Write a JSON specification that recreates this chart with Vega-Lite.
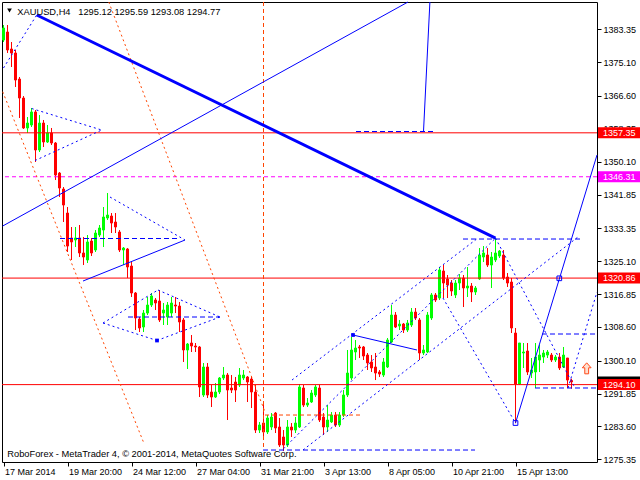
{
 "$schema": "https://vega.github.io/schema/vega-lite/v6.json",
 "width": 595,
 "height": 460,
 "autosize": {"type": "none"},
 "padding": {"left": 2, "top": 2, "right": 43, "bottom": 18},
 "background": "#FFFFFF",
 "config": {"view": {"stroke": "#000000", "strokeWidth": 1}, "font": "Liberation Sans",
  "axis": {"labelOverlap": false, "labelFlush": false, "labelBound": false, "grid": false, "domain": false, "labelFont": "Liberation Sans", "labelFontSize": 9, "labelColor": "#000000", "tickColor": "#000000", "tickSize": 4},
  "scale": {"continuousPadding": 0}},
 "datasets": {
  "candles": [
   {"i":0,"o":1380.66,"h":1384.43,"l":1380.16,"c":1383.68},
   {"i":1,"o":1382.67,"h":1384.43,"l":1377.40,"c":1378.15},
   {"i":2,"o":1378.40,"h":1380.16,"l":1373.88,"c":1377.40},
   {"i":3,"o":1377.40,"h":1378.15,"l":1368.86,"c":1370.61},
   {"i":4,"o":1370.86,"h":1371.37,"l":1361.07,"c":1366.09},
   {"i":5,"o":1366.09,"h":1366.59,"l":1358.31,"c":1358.56},
   {"i":6,"o":1358.56,"h":1361.32,"l":1357.30,"c":1359.81},
   {"i":7,"o":1359.31,"h":1363.58,"l":1358.81,"c":1362.58},
   {"i":8,"o":1362.58,"h":1363.08,"l":1350.02,"c":1353.03},
   {"i":9,"o":1353.03,"h":1361.82,"l":1352.53,"c":1359.81},
   {"i":10,"o":1359.81,"h":1360.57,"l":1353.78,"c":1355.04},
   {"i":11,"o":1355.04,"h":1359.31,"l":1354.79,"c":1357.30},
   {"i":12,"o":1357.30,"h":1358.56,"l":1354.29,"c":1354.79},
   {"i":13,"o":1354.79,"h":1355.04,"l":1345.49,"c":1346.75},
   {"i":14,"o":1347.25,"h":1347.50,"l":1341.22,"c":1343.48},
   {"i":15,"o":1343.23,"h":1343.73,"l":1334.94,"c":1339.21},
   {"i":16,"o":1337.20,"h":1338.71,"l":1327.41,"c":1328.91},
   {"i":17,"o":1330.93,"h":1333.69,"l":1325.40,"c":1329.93},
   {"i":18,"o":1330.43,"h":1333.69,"l":1328.66,"c":1330.93},
   {"i":19,"o":1330.93,"h":1334.19,"l":1326.15,"c":1327.16},
   {"i":20,"o":1327.16,"h":1331.18,"l":1324.14,"c":1326.15},
   {"i":21,"o":1325.40,"h":1331.68,"l":1324.64,"c":1329.93},
   {"i":22,"o":1330.17,"h":1330.93,"l":1326.40,"c":1327.16},
   {"i":23,"o":1327.91,"h":1332.93,"l":1327.41,"c":1332.18},
   {"i":24,"o":1331.68,"h":1334.19,"l":1331.18,"c":1333.44},
   {"i":25,"o":1332.93,"h":1338.71,"l":1328.66,"c":1336.20},
   {"i":26,"o":1335.95,"h":1342.23,"l":1335.45,"c":1336.70},
   {"i":27,"o":1336.45,"h":1337.20,"l":1332.18,"c":1334.69},
   {"i":28,"o":1334.94,"h":1337.20,"l":1332.18,"c":1333.69},
   {"i":29,"o":1332.43,"h":1332.93,"l":1327.41,"c":1327.91},
   {"i":30,"o":1327.91,"h":1328.66,"l":1324.14,"c":1328.41},
   {"i":31,"o":1328.16,"h":1328.41,"l":1320.88,"c":1323.64},
   {"i":32,"o":1323.89,"h":1324.89,"l":1316.11,"c":1317.11},
   {"i":33,"o":1317.11,"h":1317.36,"l":1307.81,"c":1310.83},
   {"i":34,"o":1310.58,"h":1311.08,"l":1307.31,"c":1308.32},
   {"i":35,"o":1308.57,"h":1312.84,"l":1307.31,"c":1312.08},
   {"i":36,"o":1312.08,"h":1316.11,"l":1311.58,"c":1314.09},
   {"i":37,"o":1314.09,"h":1317.11,"l":1313.59,"c":1316.36},
   {"i":38,"o":1315.35,"h":1315.85,"l":1312.84,"c":1314.60},
   {"i":39,"o":1315.10,"h":1317.86,"l":1309.83,"c":1310.33},
   {"i":40,"o":1312.08,"h":1314.60,"l":1309.07,"c":1312.84},
   {"i":41,"o":1311.08,"h":1314.85,"l":1309.07,"c":1314.09},
   {"i":42,"o":1312.08,"h":1316.11,"l":1311.08,"c":1314.60},
   {"i":43,"o":1314.09,"h":1316.11,"l":1312.08,"c":1313.84},
   {"i":44,"o":1313.84,"h":1314.85,"l":1307.31,"c":1309.83},
   {"i":45,"o":1310.33,"h":1310.83,"l":1299.78,"c":1302.79},
   {"i":46,"o":1302.79,"h":1304.55,"l":1298.02,"c":1304.30},
   {"i":47,"o":1304.55,"h":1306.56,"l":1302.29,"c":1303.80},
   {"i":48,"o":1303.80,"h":1304.55,"l":1302.29,"c":1303.55},
   {"i":49,"o":1303.55,"h":1303.80,"l":1290.98,"c":1293.50},
   {"i":50,"o":1291.49,"h":1299.53,"l":1290.98,"c":1298.52},
   {"i":51,"o":1298.52,"h":1299.53,"l":1290.73,"c":1291.49},
   {"i":52,"o":1292.24,"h":1294.00,"l":1288.47,"c":1290.98},
   {"i":53,"o":1290.98,"h":1294.50,"l":1290.73,"c":1292.24},
   {"i":54,"o":1292.24,"h":1296.01,"l":1291.74,"c":1295.76},
   {"i":55,"o":1295.76,"h":1298.52,"l":1295.25,"c":1296.51},
   {"i":56,"o":1296.51,"h":1297.01,"l":1285.21,"c":1292.74},
   {"i":57,"o":1293.25,"h":1296.51,"l":1291.99,"c":1292.74},
   {"i":58,"o":1294.75,"h":1296.01,"l":1289.73,"c":1292.74},
   {"i":59,"o":1294.00,"h":1298.27,"l":1293.50,"c":1296.51},
   {"i":60,"o":1295.76,"h":1297.77,"l":1295.25,"c":1296.51},
   {"i":61,"o":1296.01,"h":1296.26,"l":1289.73,"c":1294.75},
   {"i":62,"o":1295.51,"h":1296.01,"l":1288.22,"c":1292.24},
   {"i":63,"o":1292.24,"h":1294.00,"l":1281.94,"c":1282.69},
   {"i":64,"o":1282.69,"h":1284.71,"l":1281.94,"c":1283.95},
   {"i":65,"o":1284.45,"h":1288.97,"l":1280.94,"c":1282.19},
   {"i":66,"o":1282.19,"h":1286.46,"l":1281.69,"c":1285.71},
   {"i":67,"o":1283.45,"h":1286.96,"l":1282.69,"c":1285.96},
   {"i":68,"o":1286.96,"h":1287.21,"l":1281.94,"c":1283.20},
   {"i":69,"o":1283.45,"h":1285.71,"l":1278.43,"c":1278.93},
   {"i":70,"o":1280.94,"h":1282.69,"l":1277.40,"c":1278.93},
   {"i":71,"o":1278.93,"h":1285.21,"l":1278.43,"c":1283.45},
   {"i":72,"o":1283.45,"h":1284.45,"l":1280.94,"c":1282.69},
   {"i":73,"o":1282.69,"h":1285.96,"l":1281.94,"c":1284.45},
   {"i":74,"o":1283.45,"h":1294.25,"l":1283.20,"c":1293.50},
   {"i":75,"o":1293.25,"h":1294.00,"l":1288.47,"c":1288.97},
   {"i":76,"o":1288.97,"h":1290.73,"l":1288.47,"c":1289.48},
   {"i":77,"o":1289.73,"h":1292.74,"l":1289.48,"c":1291.99},
   {"i":78,"o":1291.49,"h":1294.00,"l":1290.98,"c":1293.50},
   {"i":79,"o":1293.25,"h":1294.00,"l":1284.71,"c":1285.21},
   {"i":80,"o":1285.96,"h":1286.96,"l":1281.44,"c":1283.45},
   {"i":81,"o":1283.45,"h":1288.97,"l":1282.19,"c":1285.21},
   {"i":82,"o":1284.71,"h":1287.21,"l":1284.45,"c":1286.46},
   {"i":83,"o":1286.46,"h":1287.21,"l":1283.45,"c":1283.95},
   {"i":84,"o":1283.95,"h":1287.21,"l":1283.45,"c":1286.46},
   {"i":85,"o":1286.46,"h":1292.74,"l":1285.96,"c":1291.49},
   {"i":86,"o":1291.49,"h":1302.79,"l":1290.98,"c":1297.01},
   {"i":87,"o":1295.76,"h":1306.06,"l":1295.25,"c":1302.79},
   {"i":88,"o":1302.29,"h":1305.30,"l":1300.28,"c":1303.29},
   {"i":89,"o":1303.55,"h":1304.05,"l":1300.78,"c":1303.29},
   {"i":90,"o":1303.55,"h":1303.80,"l":1300.28,"c":1301.28},
   {"i":91,"o":1301.53,"h":1302.04,"l":1297.77,"c":1299.53},
   {"i":92,"o":1299.78,"h":1301.53,"l":1297.27,"c":1298.27},
   {"i":93,"o":1298.52,"h":1302.04,"l":1295.25,"c":1297.01},
   {"i":94,"o":1297.27,"h":1297.77,"l":1296.01,"c":1296.76},
   {"i":95,"o":1296.51,"h":1300.78,"l":1296.01,"c":1299.78},
   {"i":96,"o":1298.52,"h":1305.81,"l":1298.27,"c":1305.30},
   {"i":97,"o":1304.80,"h":1314.09,"l":1304.55,"c":1311.58},
   {"i":98,"o":1311.58,"h":1312.33,"l":1308.32,"c":1308.57},
   {"i":99,"o":1308.82,"h":1310.33,"l":1307.81,"c":1309.32},
   {"i":100,"o":1309.32,"h":1309.58,"l":1307.06,"c":1307.81},
   {"i":101,"o":1307.81,"h":1310.33,"l":1307.31,"c":1309.58},
   {"i":102,"o":1309.07,"h":1313.34,"l":1308.57,"c":1312.33},
   {"i":103,"o":1312.33,"h":1313.34,"l":1310.33,"c":1310.83},
   {"i":104,"o":1310.33,"h":1310.83,"l":1300.28,"c":1302.04},
   {"i":105,"o":1302.04,"h":1304.05,"l":1301.53,"c":1302.79},
   {"i":106,"o":1302.29,"h":1312.33,"l":1302.04,"c":1311.58},
   {"i":107,"o":1310.83,"h":1317.11,"l":1310.33,"c":1316.61},
   {"i":108,"o":1316.61,"h":1317.11,"l":1314.85,"c":1315.35},
   {"i":109,"o":1315.85,"h":1323.64,"l":1315.35,"c":1322.89},
   {"i":110,"o":1322.64,"h":1324.14,"l":1315.85,"c":1319.62},
   {"i":111,"o":1320.63,"h":1321.63,"l":1315.85,"c":1319.12},
   {"i":112,"o":1319.62,"h":1320.37,"l":1316.36,"c":1317.61},
   {"i":113,"o":1316.61,"h":1320.37,"l":1315.85,"c":1319.62},
   {"i":114,"o":1319.62,"h":1321.88,"l":1317.86,"c":1320.88},
   {"i":115,"o":1320.88,"h":1321.63,"l":1313.59,"c":1318.37},
   {"i":116,"o":1318.37,"h":1323.64,"l":1316.11,"c":1318.87},
   {"i":117,"o":1318.87,"h":1319.62,"l":1314.85,"c":1317.36},
   {"i":118,"o":1317.36,"h":1318.87,"l":1316.61,"c":1318.37},
   {"i":119,"o":1320.63,"h":1328.41,"l":1320.37,"c":1326.65},
   {"i":120,"o":1326.15,"h":1328.91,"l":1324.89,"c":1327.16},
   {"i":121,"o":1326.65,"h":1328.41,"l":1323.64,"c":1324.14},
   {"i":122,"o":1324.14,"h":1327.41,"l":1318.37,"c":1326.15},
   {"i":123,"o":1325.40,"h":1330.93,"l":1324.89,"c":1327.16},
   {"i":124,"o":1326.40,"h":1327.91,"l":1325.90,"c":1327.66},
   {"i":125,"o":1326.65,"h":1327.91,"l":1320.37,"c":1320.88},
   {"i":126,"o":1321.13,"h":1322.13,"l":1318.62,"c":1319.62},
   {"i":127,"o":1319.87,"h":1320.88,"l":1307.06,"c":1308.32},
   {"i":128,"o":1307.06,"h":1308.32,"l":1284.40,"c":1294.25},
   {"i":129,"o":1294.25,"h":1304.55,"l":1294.00,"c":1304.55},
   {"i":130,"o":1302.04,"h":1304.55,"l":1298.27,"c":1302.29},
   {"i":131,"o":1302.54,"h":1304.55,"l":1296.51,"c":1297.27},
   {"i":132,"o":1297.01,"h":1300.78,"l":1295.76,"c":1297.77},
   {"i":133,"o":1297.27,"h":1304.55,"l":1293.25,"c":1301.03},
   {"i":134,"o":1300.28,"h":1304.05,"l":1297.27,"c":1301.53},
   {"i":135,"o":1301.03,"h":1302.79,"l":1299.53,"c":1302.04},
   {"i":136,"o":1301.53,"h":1302.79,"l":1300.78,"c":1302.29},
   {"i":137,"o":1301.53,"h":1302.04,"l":1299.78,"c":1300.28},
   {"i":138,"o":1300.28,"h":1301.53,"l":1299.78,"c":1301.03},
   {"i":139,"o":1301.03,"h":1302.04,"l":1297.77,"c":1298.27},
   {"i":140,"o":1298.52,"h":1303.55,"l":1298.27,"c":1301.53},
   {"i":141,"o":1300.78,"h":1300.78,"l":1293.25,"c":1295.25},
   {"i":142,"o":1295.12,"h":1295.59,"l":1293.08,"c":1294.77}
  ],
  "redLevels": [{"p":1357.35},{"p":1320.86},{"p":1294.10}],
  "magentaLevel": [{"p":1346.31}],
  "thickLine": [{"x1":8.3,"y1":1386.94,"x2":123,"y2":1330.9}],
  "solidLines": [
   {"x1":-0.2,"y1":1333.94,"x2":101.125,"y2":1390.21},
   {"x1":19.875,"y1":1320.12,"x2":45.375,"y2":1330.42},
   {"x1":106.6,"y1":1390.21,"x2":105.0,"y2":1357.68},
   {"x1":87.375,"y1":1306.56,"x2":103.375,"y2":1302.79},
   {"x1":128,"y1":1284.45,"x2":148.375,"y2":1351.77}
  ],
  "dottedLines": [
   {"x1":0,"y1":1373.63,"x2":8.3,"y2":1386.94},
   {"x1":7.05,"y1":1363.45,"x2":24.55,"y2":1358.05},
   {"x1":7.875,"y1":1350.39,"x2":24.55,"y2":1358.05},
   {"x1":26.625,"y1":1341.22,"x2":45.375,"y2":1330.42},
   {"x1":24.875,"y1":1309.57,"x2":38.625,"y2":1317.86},
   {"x1":38.625,"y1":1317.86,"x2":54.125,"y2":1311.08},
   {"x1":24.875,"y1":1309.57,"x2":38.375,"y2":1305.18},
   {"x1":38.375,"y1":1305.18,"x2":54.125,"y2":1311.08},
   {"x1":70,"y1":1278.0,"x2":123,"y2":1330.9},
   {"x1":72.125,"y1":1295.25,"x2":118.625,"y2":1330.93},
   {"x1":74.875,"y1":1277.67,"x2":143.625,"y2":1331.18},
   {"x1":109.875,"y1":1315.85,"x2":128,"y2":1284.45},
   {"x1":123,"y1":1330.9,"x2":142.875,"y2":1293.25},
   {"x1":141.125,"y1":1293.25,"x2":148.375,"y2":1317.36}
  ],
  "dashedLines": [
   {"x1":14.125,"y1":1330.80,"x2":44.125,"y2":1330.80},
   {"x1":31.125,"y1":1311.08,"x2":54.125,"y2":1311.08},
   {"x1":88.125,"y1":1357.68,"x2":108.125,"y2":1357.68},
   {"x1":64.875,"y1":1277.67,"x2":117.875,"y2":1277.67},
   {"x1":114.875,"y1":1330.67,"x2":144.125,"y2":1330.67},
   {"x1":134.625,"y1":1306.81,"x2":148.375,"y2":1306.81},
   {"x1":132.875,"y1":1293.25,"x2":148.375,"y2":1293.25}
  ],
  "orangeDotted": [
   {"x1":-0.2,"y1":1367.67,"x2":34.95,"y2":1279.76},
   {"x1":26.325,"y1":1390.21,"x2":65.375,"y2":1287.22}
  ],
  "orangeDashed": [
   {"x1":65,"y1":1390.21,"x2":65,"y2":1277.67},
   {"x1":65.375,"y1":1286.46,"x2":89.875,"y2":1286.46}
  ],
  "filledSquares": [{"i":38.375,"p":1305.18},{"i":87.375,"p":1306.56}],
  "hollowSquares": [{"i":128,"p":1284.45},{"i":138.95,"p":1320.80}],
  "redBoxes": [{"p":1357.35},{"p":1320.86}],
  "lastBox": [{"p":1294.77}],
  "bidBox": [{"p":1294.10}],
  "magentaBox": [{"p":1346.31}]
 },
 "layer": [
  {
   "data": {"name": "candles"},
   "mark": {"type": "rule", "strokeWidth": 1},
   "encoding": {
    "x": {"field": "i", "type": "quantitative", "title": null,
     "scale": {"domain": [-0.375, 148.375], "nice": false, "zero": false, "padding": 0},
     "axis": {"values": [0,16,32,48,64,80,96,112,128], "tickCount": 20,
      "labelExpr": "['17 Mar 2014','19 Mar 20:00','24 Mar 12:00','27 Mar 04:00','31 Mar 21:00','3 Apr 13:00','8 Apr 05:00','10 Apr 21:00','15 Apr 13:00'][round(datum.value/16)]",
      "labelAlign": "left", "labelOffset": 1, "labelBaseline": "top", "labelPadding": 1,
      "labelOverlap": false, "title": null}},
    "y": {"field": "l", "type": "quantitative", "title": null,
     "scale": {"domain": [1274.66, 1390.21], "nice": false, "zero": false, "padding": 0},
     "axis": {"orient": "right", "tickCount": 30,
      "values": [1383.35,1375.10,1366.60,1358.35,1350.10,1341.85,1333.35,1325.10,1316.85,1308.60,1300.10,1291.85,1283.60,1275.35],
      "format": ".2f", "labelPadding": 2, "labelOverlap": false, "title": null}},
    "y2": {"field": "h"},
    "color": {"condition": {"test": "datum.c >= datum.o", "value": "#00FF00"}, "value": "#FF0000"}
   }
  },
  {
   "data": {"name": "candles"},
   "mark": {"type": "bar", "size": 2, "strokeWidth": 1},
   "encoding": {
    "x": {"field": "i", "type": "quantitative", "title": null, "axis": {"labelOverlap": false}},
    "y": {"field": "o", "type": "quantitative", "title": null, "axis": {"orient": "right", "labelOverlap": false}},
    "y2": {"field": "c"},
    "fill": {"condition": {"test": "datum.c >= datum.o", "value": "#00FF00"}, "value": "#FF0000"},
    "stroke": {"condition": {"test": "datum.c >= datum.o", "value": "#00FF00"}, "value": "#FF0000"}
   }
  },
  {
   "data": {"name": "redLevels"},
   "mark": {"type": "rule", "color": "#FF0000", "strokeWidth": 1},
   "encoding": {"y": {"field": "p", "type": "quantitative", "title": null, "axis": {"orient": "right", "labelOverlap": false}}}
  },
  {
   "data": {"name": "magentaLevel"},
   "mark": {"type": "rule", "color": "#FF00FF", "strokeWidth": 1, "strokeDash": [4, 3]},
   "encoding": {"y": {"field": "p", "type": "quantitative", "title": null, "axis": {"orient": "right", "labelOverlap": false}}}
  },
  {
   "data": {"name": "orangeDotted"},
   "mark": {"type": "rule", "color": "#FF4500", "strokeWidth": 1, "strokeDash": [2, 3]},
   "encoding": {"x": {"field": "x1", "type": "quantitative", "title": null, "axis": {"labelOverlap": false}}, "y": {"field": "y1", "type": "quantitative", "title": null, "axis": {"orient": "right", "labelOverlap": false}}, "x2": {"field": "x2"}, "y2": {"field": "y2"}}
  },
  {
   "data": {"name": "orangeDashed"},
   "mark": {"type": "rule", "color": "#FF4500", "strokeWidth": 1, "strokeDash": [4, 3]},
   "encoding": {"x": {"field": "x1", "type": "quantitative", "title": null, "axis": {"labelOverlap": false}}, "y": {"field": "y1", "type": "quantitative", "title": null, "axis": {"orient": "right", "labelOverlap": false}}, "x2": {"field": "x2"}, "y2": {"field": "y2"}}
  },
  {
   "data": {"name": "dottedLines"},
   "mark": {"type": "rule", "color": "#0000FF", "strokeWidth": 1, "strokeDash": [2, 3]},
   "encoding": {"x": {"field": "x1", "type": "quantitative", "title": null, "axis": {"labelOverlap": false}}, "y": {"field": "y1", "type": "quantitative", "title": null, "axis": {"orient": "right", "labelOverlap": false}}, "x2": {"field": "x2"}, "y2": {"field": "y2"}}
  },
  {
   "data": {"name": "dashedLines"},
   "mark": {"type": "rule", "color": "#0000FF", "strokeWidth": 1, "strokeDash": [5, 3]},
   "encoding": {"x": {"field": "x1", "type": "quantitative", "title": null, "axis": {"labelOverlap": false}}, "y": {"field": "y1", "type": "quantitative", "title": null, "axis": {"orient": "right", "labelOverlap": false}}, "x2": {"field": "x2"}, "y2": {"field": "y2"}}
  },
  {
   "data": {"name": "solidLines"},
   "mark": {"type": "rule", "color": "#0000FF", "strokeWidth": 1},
   "encoding": {"x": {"field": "x1", "type": "quantitative", "title": null, "axis": {"labelOverlap": false}}, "y": {"field": "y1", "type": "quantitative", "title": null, "axis": {"orient": "right", "labelOverlap": false}}, "x2": {"field": "x2"}, "y2": {"field": "y2"}}
  },
  {
   "data": {"name": "thickLine"},
   "mark": {"type": "rule", "color": "#0000FF", "strokeWidth": 3},
   "encoding": {"x": {"field": "x1", "type": "quantitative", "title": null, "axis": {"labelOverlap": false}}, "y": {"field": "y1", "type": "quantitative", "title": null, "axis": {"orient": "right", "labelOverlap": false}}, "x2": {"field": "x2"}, "y2": {"field": "y2"}}
  },
  {
   "data": {"name": "filledSquares"},
   "mark": {"type": "point", "shape": "square", "size": 14, "filled": true, "color": "#0000FF", "opacity": 1},
   "encoding": {"x": {"field": "i", "type": "quantitative", "title": null, "axis": {"labelOverlap": false}}, "y": {"field": "p", "type": "quantitative", "title": null, "axis": {"orient": "right", "labelOverlap": false}}}
  },
  {
   "data": {"name": "hollowSquares"},
   "mark": {"type": "point", "shape": "square", "size": 22, "filled": false, "color": "#0000FF", "strokeWidth": 1, "opacity": 1},
   "encoding": {"x": {"field": "i", "type": "quantitative", "title": null, "axis": {"labelOverlap": false}}, "y": {"field": "p", "type": "quantitative", "title": null, "axis": {"orient": "right", "labelOverlap": false}}}
  },
  {
   "data": {"values": [{"i": 145.8, "p": 1298.19}]},
   "mark": {"type": "point", "shape": "M0,-1L0.8,-0.1L0.35,-0.1L0.35,1L-0.35,1L-0.35,-0.1L-0.8,-0.1Z", "size": 121, "filled": true, "fill": "#FFE0D0", "stroke": "#FF4A1A", "strokeWidth": 1, "opacity": 1},
   "encoding": {"x": {"field": "i", "type": "quantitative", "title": null, "axis": {"labelOverlap": false}}, "y": {"field": "p", "type": "quantitative", "title": null, "axis": {"orient": "right", "labelOverlap": false}}}
  },
  {
   "data": {"values": [{"i": 1.5, "p": 1388.07}]},
   "mark": {"type": "point", "shape": "triangle-down", "size": 22, "filled": true, "color": "#000000", "opacity": 1},
   "encoding": {"x": {"field": "i", "type": "quantitative", "title": null, "axis": {"labelOverlap": false}}, "y": {"field": "p", "type": "quantitative", "title": null, "axis": {"orient": "right", "labelOverlap": false}}}
  },
  {
   "data": {"values": [{"i": 3.45, "p": 1386.94, "t": "XAUUSD,H4\u00a0\u00a0 1295.12 1295.59 1293.08 1294.77"}]},
   "mark": {"type": "text", "align": "left", "baseline": "alphabetic", "fontSize": 9.3, "font": "Liberation Sans", "color": "#000000"},
   "encoding": {"x": {"field": "i", "type": "quantitative", "title": null, "axis": {"labelOverlap": false}}, "y": {"field": "p", "type": "quantitative", "title": null, "axis": {"orient": "right", "labelOverlap": false}}, "text": {"field": "t"}}
  },
  {
   "data": {"values": [{"i": 0.95, "p": 1275.86, "t": "RoboForex - MetaTrader 4, © 2001-2014, MetaQuotes Software Corp."}]},
   "mark": {"type": "text", "align": "left", "baseline": "alphabetic", "fontSize": 9.3, "font": "Liberation Sans", "color": "#000000"},
   "encoding": {"x": {"field": "i", "type": "quantitative", "title": null, "axis": {"labelOverlap": false}}, "y": {"field": "p", "type": "quantitative", "title": null, "axis": {"orient": "right", "labelOverlap": false}}, "text": {"field": "t"}}
  },
  {
   "data": {"name": "redBoxes"},
   "mark": {"type": "bar", "size": 11, "color": "#FF0000", "clip": false},
   "encoding": {"x": {"datum": 148.625, "type": "quantitative", "title": null, "axis": {"labelOverlap": false}}, "x2": {"datum": 159.125}, "y": {"field": "p", "type": "quantitative", "title": null, "axis": {"orient": "right", "labelOverlap": false}}}
  },
  {
   "data": {"name": "magentaBox"},
   "mark": {"type": "bar", "size": 11, "color": "#FF00FF", "clip": false},
   "encoding": {"x": {"datum": 148.625, "type": "quantitative", "title": null, "axis": {"labelOverlap": false}}, "x2": {"datum": 159.125}, "y": {"field": "p", "type": "quantitative", "title": null, "axis": {"orient": "right", "labelOverlap": false}}}
  },
  {
   "data": {"name": "lastBox"},
   "mark": {"type": "bar", "size": 11, "color": "#000000", "clip": false},
   "encoding": {"x": {"datum": 148.625, "type": "quantitative", "title": null, "axis": {"labelOverlap": false}}, "x2": {"datum": 159.125}, "y": {"field": "p", "type": "quantitative", "title": null, "axis": {"orient": "right", "labelOverlap": false}}}
  },
  {
   "data": {"name": "bidBox"},
   "mark": {"type": "bar", "size": 11, "color": "#FF0000", "clip": false},
   "encoding": {"x": {"datum": 148.625, "type": "quantitative", "title": null, "axis": {"labelOverlap": false}}, "x2": {"datum": 159.125}, "y": {"field": "p", "type": "quantitative", "title": null, "axis": {"orient": "right", "labelOverlap": false}}}
  },
  {
   "data": {"name": "redBoxes"},
   "mark": {"type": "text", "align": "left", "baseline": "middle", "fontSize": 9, "font": "Liberation Sans", "color": "#FFFFFF"},
   "encoding": {"x": {"datum": 149.875, "type": "quantitative", "title": null, "axis": {"labelOverlap": false}}, "y": {"field": "p", "type": "quantitative", "title": null, "axis": {"orient": "right", "labelOverlap": false}}, "text": {"field": "p", "type": "quantitative", "format": ".2f"}}
  },
  {
   "data": {"name": "magentaBox"},
   "mark": {"type": "text", "align": "left", "baseline": "middle", "fontSize": 9, "font": "Liberation Sans", "color": "#FFFFFF"},
   "encoding": {"x": {"datum": 149.875, "type": "quantitative", "title": null, "axis": {"labelOverlap": false}}, "y": {"field": "p", "type": "quantitative", "title": null, "axis": {"orient": "right", "labelOverlap": false}}, "text": {"field": "p", "type": "quantitative", "format": ".2f"}}
  },
  {
   "data": {"name": "bidBox"},
   "mark": {"type": "text", "align": "left", "baseline": "middle", "fontSize": 9, "font": "Liberation Sans", "color": "#FFFFFF"},
   "encoding": {"x": {"datum": 149.875, "type": "quantitative", "title": null, "axis": {"labelOverlap": false}}, "y": {"field": "p", "type": "quantitative", "title": null, "axis": {"orient": "right", "labelOverlap": false}}, "text": {"field": "p", "type": "quantitative", "format": ".2f"}}
  }
 ]
}
